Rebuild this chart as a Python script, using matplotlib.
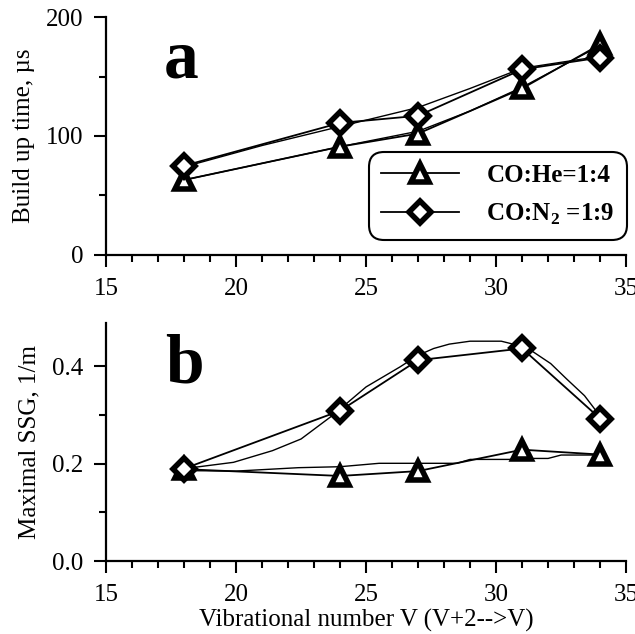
import numpy as np
import matplotlib.pyplot as plt
from matplotlib.ticker import MultipleLocator

plt.rcParams['font.family'] = ['Liberation Serif', 'DejaVu Serif']
plt.rcParams['mathtext.fontset'] = 'custom'
plt.rcParams['mathtext.rm'] = 'Liberation Serif'
plt.rcParams['mathtext.bf'] = 'Liberation Serif:bold'

# niveaux vibrationnels
v = [18, 24, 27, 31, 34]

# (a) temps d'établissement, µs
build_he = [63, 91, 102, 140, 177]
build_n2 = [75, 111, 117, 156, 166]
# courbes lissées
fit_a_x = [18, 21, 24, 27, 29, 31, 34]
fit_a_he = [63, 77, 91, 104, 121, 141, 176]
fit_a_n2 = [74, 92, 108, 124, 140, 157, 167]

# (b) gain maximal, 1/m
ssg_he = [0.189, 0.175, 0.185, 0.229, 0.219]
ssg_n2 = [0.190, 0.309, 0.413, 0.437, 0.293]
fit_b_x = [18, 19.9, 21.4, 22.5, 23.7, 25.0, 26.3, 27.0, 27.6, 28.2, 29.0, 30.2, 30.8, 31.4, 32.1, 32.7, 33.4, 34]
fit_b_n2 = [0.190, 0.203, 0.227, 0.251, 0.299, 0.358, 0.399, 0.423, 0.437, 0.446, 0.452, 0.452,
            0.444, 0.431, 0.406, 0.375, 0.340, 0.298]
fit_b_x2 = [18, 20, 22.4, 24, 25.5, 28.5, 29, 30.5, 31, 32, 32.5, 34]
fit_b_he = [0.186, 0.185, 0.192, 0.194, 0.201, 0.201, 0.209, 0.209, 0.211, 0.211, 0.218, 0.218]

labels = ['CO:He=1:4', r'CO:N$_\mathbf{2}$ =1:9']

fig = plt.figure(figsize=(6.35, 6.34), dpi=100)
ax1 = fig.add_axes([0.167, 0.598, 0.819, 0.375])
ax2 = fig.add_axes([0.167, 0.115, 0.819, 0.376])

tri = dict(color='black', lw=1.3, marker='^', markersize=12.5, markerfacecolor='white',
           markeredgecolor='black', markeredgewidth=4)
dia = dict(color='black', lw=1.3, marker='D', markersize=11, markerfacecolor='white',
           markeredgecolor='black', markeredgewidth=4)

def style(ax):
    for s in ['top', 'right']:
        ax.spines[s].set_visible(False)
    for s in ['left', 'bottom']:
        ax.spines[s].set_linewidth(1.6)
    ax.set_xlim(15, 35)
    ax.xaxis.set_major_locator(MultipleLocator(5))
    ax.xaxis.set_minor_locator(MultipleLocator(1))
    ax.tick_params(which='major', direction='out', length=8.5, width=1.5, labelsize=18, pad=8)
    ax.tick_params(which='minor', direction='out', length=5, width=1.5)

# panneau a
ax1.plot(fit_a_x, fit_a_he, color='black', lw=1.0)
ax1.plot(fit_a_x, fit_a_n2, color='black', lw=1.0)
ax1.plot(v, build_he, label=labels[0], **tri)
ax1.plot(v, build_n2, label=labels[1], **dia)
ax1.set_ylim(0, 200)
ax1.yaxis.set_major_locator(MultipleLocator(100))
ax1.yaxis.set_minor_locator(MultipleLocator(50))
style(ax1)
ax1.set_ylabel('Build up time, µs', fontsize=18, labelpad=8)
ax1.text(0.11, 0.744, 'a', transform=ax1.transAxes, fontsize=50, fontweight='bold', va='baseline')
leg = ax1.legend(loc='lower right', bbox_to_anchor=(1.002, 0.063), borderaxespad=0,
                 frameon=True, framealpha=1, fancybox=True, handlelength=3.1, labelspacing=0.6,
                 borderpad=0.5, handletextpad=1.1, prop={'weight': 'bold', 'size': 18})
leg.get_frame().set_edgecolor('black')
leg.get_frame().set_linewidth(1.5)
leg.get_frame().set_boxstyle('round', pad=0, rounding_size=0.6)

# panneau b
ax2.plot(fit_b_x, fit_b_n2, color='black', lw=1.0)
ax2.plot(fit_b_x2, fit_b_he, color='black', lw=1.0)
ax2.plot(v, ssg_he, **tri)
ax2.plot(v, ssg_n2, **dia)
ax2.set_ylim(0, 0.49)
ax2.yaxis.set_major_locator(MultipleLocator(0.2))
ax2.yaxis.set_minor_locator(MultipleLocator(0.1))
ax2.yaxis.set_major_formatter(plt.FormatStrFormatter('%.1f'))
style(ax2)
ax2.set_ylabel('Maximal SSG, 1/m', fontsize=18, labelpad=8)
ax2.set_xlabel('Vibrational number V (V+2-->V)', fontsize=18, labelpad=2)
ax2.text(0.113, 0.748, 'b', transform=ax2.transAxes, fontsize=50, fontweight='bold', va='baseline')

fig.savefig('out.png', dpi=100)
